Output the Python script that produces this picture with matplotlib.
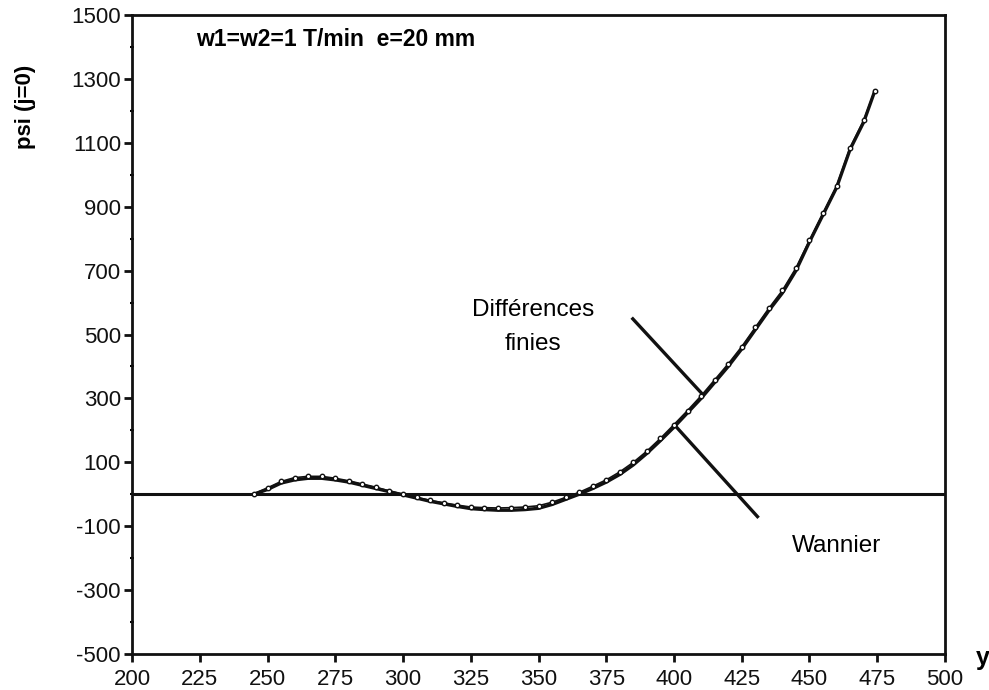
import matplotlib
matplotlib.use("Agg")
import matplotlib.pyplot as plt
from matplotlib.ticker import MultipleLocator

# ---------- data ----------
y_pos = [245, 250, 255, 260, 265, 270, 275, 280, 285, 290, 295, 300, 305, 310,
         315, 320, 325, 330, 335, 340, 345, 350, 355, 360, 365, 370, 375, 380,
         385, 390, 395, 400, 405, 410, 415, 420, 425, 430, 435, 440, 445, 450,
         455, 460, 465, 470, 474]

psi_wannier = [0, 15, 35, 45, 50, 50, 45, 38, 28, 18, 8, -2, -12, -22,
               -30, -38, -45, -48, -50, -50, -48, -44, -32, -16, 0, 18, 38, 62,
               92, 128, 168, 210, 255, 300, 350, 400, 455, 515, 575, 630, 700, 790,
               875, 960, 1080, 1165, 1260]

psi_diff = [2, 20, 40, 52, 56, 56, 50, 42, 32, 22, 10, 0, -10, -19,
            -27, -34, -40, -42, -43, -42, -40, -36, -25, -10, 6, 25, 45, 70,
            100, 135, 175, 218, 262, 308, 358, 408, 462, 522, 582, 638, 708, 795,
            880, 965, 1085, 1170, 1262]

x_ticks = list(range(200, 501, 25))
y_ticks = list(range(-500, 1501, 200))

dark = "#111111"
# -------------------------------------------------

plt.rcParams['font.family'] = ['Liberation Sans', 'DejaVu Sans']
plt.rcParams['axes.unicode_minus'] = False

fig = plt.figure(figsize=(9.89, 6.90), dpi=100)
ax = fig.add_axes([0.1335, 0.0522, 0.822, 0.926])

# zero line
ax.axhline(0, color=dark, linewidth=2.2, zorder=2)

# curves
ax.plot(y_pos, psi_wannier, color=dark, linewidth=2.4, zorder=3)
ax.plot(y_pos, psi_diff, color=dark, linewidth=1.2, marker='o', markersize=3.2,
        markerfacecolor='white', markeredgecolor=dark, markeredgewidth=1.0, zorder=4)

# annotation lines and labels
ax.plot([384.8, 410.2], [549, 316], color=dark, linewidth=2.4)
ax.plot([400.6, 430.8], [213, -70], color=dark, linewidth=2.4)
ax.text(348, 576, "Différences", ha='center', va='center', fontsize=17.5)
ax.text(348, 470, "finies", ha='center', va='center', fontsize=17.5)
ax.text(460, -162, "Wannier", ha='center', va='center', fontsize=17.5)

ax.text(223.5, 1425, "w1=w2=1 T/min  e=20 mm", ha='left', va='center',
        fontsize=16.5, fontweight='bold')

ax.set_xlim(200, 500)
ax.set_ylim(-500, 1500)
ax.set_xticks(x_ticks)
ax.set_yticks(y_ticks)
ax.yaxis.set_minor_locator(MultipleLocator(100))

ax.tick_params(axis='both', direction='out', length=6, width=2, colors=dark,
               labelsize=16)
ax.tick_params(axis='y', which='major', pad=2)
ax.tick_params(axis='y', which='minor', direction='inout', length=3, width=1.5)
ax.tick_params(axis='x', pad=5)

for sp in ax.spines.values():
    sp.set_linewidth(2)
    sp.set_color(dark)

fig.text(25 / 989, 1 - 107 / 690, "psi (j=0)", rotation=90, fontsize=16,
         fontweight='bold', ha='center', va='center')
fig.text(983 / 989, 1 - 658 / 690, "y", fontsize=18, fontweight='bold',
         ha='center', va='center')

fig.savefig("out.png", dpi=100)
